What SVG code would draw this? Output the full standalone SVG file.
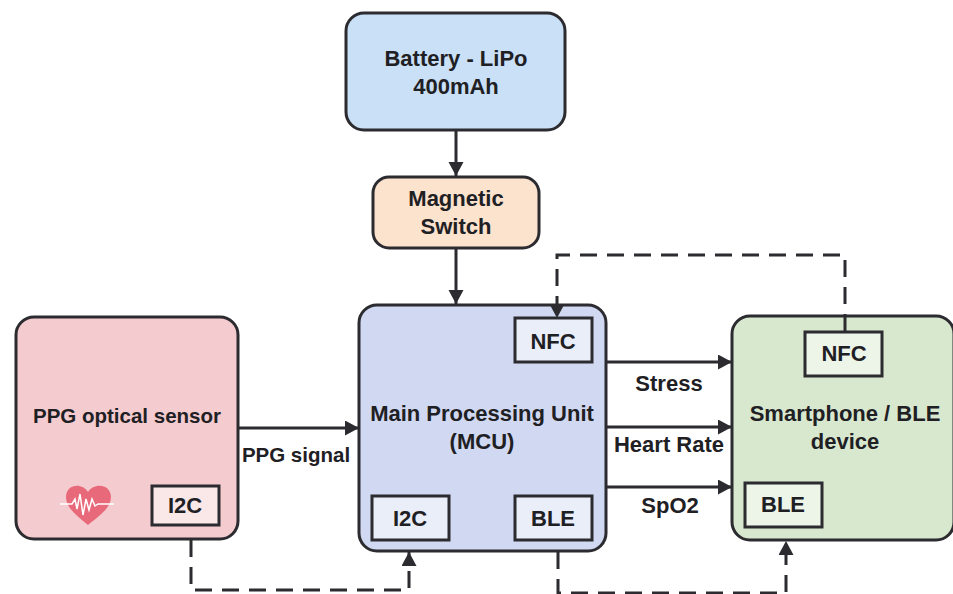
<svg xmlns="http://www.w3.org/2000/svg" width="953" height="594" viewBox="0 0 953 594">
<style>
.b{stroke:#2b2b30;stroke-width:3}
.s{stroke:#2b2b30;stroke-width:3;fill-opacity:.55;fill:#fff}
.t{font-family:"Liberation Sans",Arial,sans-serif;font-weight:700;font-size:22px;fill:#1f2024;text-anchor:middle}
.n{font-size:20.5px}
.c{fill:none;stroke:#2b2b30;stroke-width:3}
.d{stroke-dasharray:17 10}
</style>
<defs>
<marker id="a" markerUnits="userSpaceOnUse" markerWidth="16" markerHeight="16" refX="14" refY="7.5" orient="auto"><path d="M0 0L14 7.5L0 15Z" fill="#2b2b30"/></marker>
</defs>
<rect width="953" height="594" fill="#fff"/>
<g id="battery"><rect class="b" x="346" y="13" width="219" height="117" rx="18" fill="#c9e0f7"/><text class="t" x="456" y="66">Battery - LiPo</text><text class="t" x="456" y="94">400mAh</text></g>
<g id="switch"><rect class="b" x="373" y="177" width="166" height="71" rx="16" fill="#fbe3cd"/><text class="t" x="456" y="206">Magnetic</text><text class="t" x="456" y="234">Switch</text></g>
<g id="ppg"><rect class="b" x="16" y="317" width="222" height="222" rx="18" fill="#f4cccf"/><text class="t n" x="127" y="423">PPG optical sensor</text>
<path d="M88 525C77 516 66 508 66 497C66 484 82 482 88 492C94 482 111 484 111 497C111 508 99 516 88 525Z" fill="#e8697a"/>
<path d="M60 504H72L75 499L77 509L80 494L83 515L86 499L89 510L92 499L95 506L98 504H114" fill="none" stroke="#fff" stroke-width="1.5"/>
<g id="ppg-i2c"><rect class="s" x="152" y="486" width="67" height="39"/><text class="t" x="185" y="513">I2C</text></g></g>
<g id="mcu"><rect class="b" x="359" y="305" width="247" height="246" rx="18" fill="#d0d9f1"/><text class="t" x="482" y="421">Main Processing Unit</text><text class="t" x="482" y="449">(MCU)</text>
<g id="mcu-nfc"><rect class="s" x="515" y="318" width="77" height="44"/><text class="t" x="553" y="349">NFC</text></g>
<g id="mcu-i2c"><rect class="s" x="372" y="496" width="77" height="44"/><text class="t" x="410" y="526">I2C</text></g>
<g id="mcu-ble"><rect class="s" x="515" y="496" width="77" height="44"/><text class="t" x="553" y="526">BLE</text></g></g>
<g id="phone"><rect class="b" x="732" y="316" width="222" height="224" rx="18" fill="#d8e8cf"/><text class="t" x="845" y="421">Smartphone / BLE</text><text class="t" x="845" y="449">device</text>
<g id="phone-nfc"><rect class="s" x="805" y="332" width="77" height="44"/><text class="t" x="844" y="361">NFC</text></g>
<g id="phone-ble"><rect class="s" x="745" y="483" width="77" height="44"/><text class="t" x="783" y="512">BLE</text></g></g>
<g id="connectors">
<path class="c" d="M456 130V176" marker-end="url(#a)"/>
<path class="c" d="M456 249V304" marker-end="url(#a)"/>
<path class="c" d="M239 428H359" marker-end="url(#a)"/>
<path class="c" d="M606 362H732" marker-end="url(#a)"/>
<path class="c" d="M606 427H732" marker-end="url(#a)"/>
<path class="c" d="M606 487H732" marker-end="url(#a)"/>
<path class="c d" d="M191 540V590H409V552" marker-end="url(#a)"/>
<path class="c d" d="M558 552V593H786V541" marker-end="url(#a)"/>
<path class="c d" d="M845 331V255H557V318" marker-end="url(#a)"/>
</g>
<g id="labels">
<text class="t n" x="296" y="462">PPG signal</text>
<text class="t" x="669" y="391">Stress</text>
<text class="t" x="669" y="452">Heart Rate</text>
<text class="t" x="670" y="513">SpO2</text>
</g>
</svg>
